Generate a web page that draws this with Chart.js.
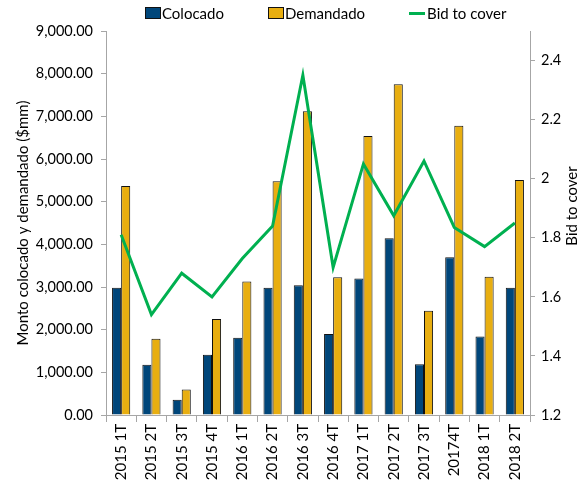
<!DOCTYPE html>
<html>
<head>
<meta charset="utf-8">
<script src="https://cdn.jsdelivr.net/npm/chart.js@4.4.1/dist/chart.umd.min.js"></script>
<style>
  body { margin: 0; background: #fff; font-family: Lato, sans-serif; }
  #wrap { position: relative; width: 586px; height: 486px; }
  #leyenda { position: absolute; left: 145px; top: 4px; display: flex; font-size: 15px; color: #000; }
  #leyenda .item { display: flex; align-items: center; margin-right: 44px; }
  #leyenda .caja { width: 14px; height: 10px; border: 1px solid #111; margin-right: 1px; }
  #leyenda .linea { width: 16px; height: 3px; margin-right: 2px; }
</style>
</head>
<body>
<div id="wrap">
  <canvas id="grafica" width="586" height="486"></canvas>
  <div id="leyenda"></div>
</div>
<script>
const trimestres = ["2015 1T", "2015 2T", "2015 3T", "2015 4T", "2016 1T", "2016 2T", "2016 3T",
  "2016 4T", "2017 1T", "2017 2T", "2017 3T", "20174T", "2018 1T", "2018 2T"];
const colocado = [2980, 1180, 360, 1410, 1810, 2980, 3040, 1900, 3200, 4140, 1190, 3700, 1840, 2980];
const demandado = [5370, 1790, 600, 2250, 3130, 5480, 7120, 3230, 6540, 7750, 2445, 6780, 3240, 5510];
const bidCover = [1.81, 1.54, 1.68, 1.60, 1.73, 1.84, 2.35, 1.70, 2.05, 1.875, 2.06, 1.835, 1.77, 1.85];

const ticksIzq = [0, 1000, 2000, 3000, 4000, 5000, 6000, 7000, 8000, 9000];
const ticksDer = [1.2, 1.4, 1.6, 1.8, 2, 2.2, 2.4];

const azul = "#00467a";
const oro = "#e8ae10";
const verde = "#00b050";
const gris = "#a6a6a6";
const fuente = { family: "Lato", size: 14.5 };

// titulo del eje derecho, se lee de abajo hacia arriba
const tituloDer = {
  id: "tituloDer",
  afterDraw(chart) {
    const ctx = chart.ctx;
    const a = chart.chartArea;
    ctx.save();
    ctx.translate(572, (a.top + a.bottom) / 2 - 17);
    ctx.rotate(-Math.PI / 2);
    ctx.font = "15px Lato";
    ctx.fillStyle = "#000";
    ctx.textAlign = "center";
    ctx.textBaseline = "middle";
    ctx.fillText("Bid to cover", 0, 0);
    ctx.restore();
  }
};

Chart.defaults.font.family = "Lato";
Chart.defaults.color = "#000";

const grafica = new Chart(document.getElementById("grafica"), {
  type: "bar",
  data: {
    labels: trimestres,
    datasets: [
      {
        type: "line", label: "Bid to cover", data: bidCover, yAxisID: "yDer",
        borderColor: verde, backgroundColor: verde, borderWidth: 3,
        pointRadius: 0, tension: 0, order: 0
      },
      {
        label: "Colocado", data: colocado, yAxisID: "yIzq",
        backgroundColor: azul, borderColor: "#111", borderWidth: 1, order: 1
      },
      {
        label: "Demandado", data: demandado, yAxisID: "yIzq",
        backgroundColor: oro, borderColor: "#111", borderWidth: 1, order: 1
      }
    ]
  },
  options: {
    responsive: false,
    devicePixelRatio: 1,
    animation: false,
    layout: { padding: { top: 31, left: 0, right: 0, bottom: 0 } },
    datasets: { bar: { categoryPercentage: 0.6, barPercentage: 1.0 } },
    plugins: { legend: { display: false }, tooltip: { enabled: false } },
    scales: {
      x: {
        grid: { display: true, drawOnChartArea: false, offset: true, color: gris, tickLength: 7 },
        border: { color: gris },
        ticks: { font: { family: "Lato", size: 15 }, minRotation: 90, maxRotation: 90, padding: 2 },
        afterFit(s) { s.height = 71; }
      },
      yIzq: {
        position: "left", min: 0, max: 9000,
        grid: { drawOnChartArea: false, color: gris, tickLength: 5 },
        border: { color: gris },
        afterBuildTicks(s) { s.ticks = ticksIzq.map(v => ({ value: v })); },
        ticks: {
          font: fuente, padding: 8,
          callback: v => v.toLocaleString("en-US", { minimumFractionDigits: 2, maximumFractionDigits: 2 })
        },
        title: { display: true, text: "Monto colocado y demandado ($mm)", font: { family: "Lato", size: 15 }, padding: { top: 14, bottom: 0 } },
        afterFit(s) { s.width = 106; }
      },
      yDer: {
        position: "right", min: 1.2, max: 2.5,
        grid: { drawOnChartArea: false, color: gris, tickLength: 5 },
        border: { color: gris },
        afterBuildTicks(s) { s.ticks = ticksDer.map(v => ({ value: v })); },
        ticks: { font: fuente, padding: 6, callback: v => String(Math.round(v * 10) / 10) },
        afterFit(s) { s.width = 56; }
      }
    }
  },
  plugins: [tituloDer]
});

// leyenda en html a partir de los datasets
const orden = [1, 2, 0];
const leyenda = document.getElementById("leyenda");
orden.forEach(i => {
  const ds = grafica.data.datasets[i];
  const item = document.createElement("div");
  item.className = "item";
  const marca = document.createElement("span");
  if (ds.type === "line") {
    marca.className = "linea";
    marca.style.background = ds.borderColor;
  } else {
    marca.className = "caja";
    marca.style.background = ds.backgroundColor;
  }
  const txt = document.createElement("span");
  txt.textContent = ds.label;
  item.appendChild(marca);
  item.appendChild(txt);
  leyenda.appendChild(item);
});
</script>
</body>
</html>
